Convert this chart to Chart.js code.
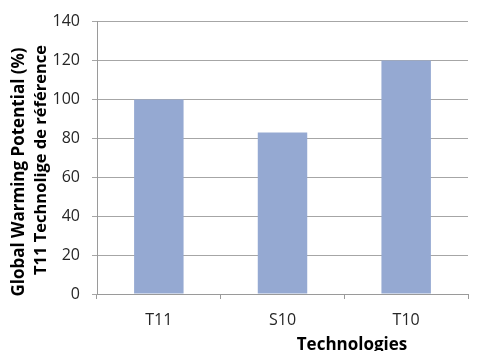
<!DOCTYPE html>
<html lang="en">
<head>
  <meta charset="UTF-8" />
  <title>Global Warming Potential</title>
  <script src="https://cdn.jsdelivr.net/npm/chart.js"></script>
  <style>
    html, body { margin: 0; padding: 0; background: #ffffff; }
    .chart-wrapper { width: 479px; height: 351px; position: relative; }
  </style>
</head>
<body>
<div class="chart-wrapper">
  <canvas id="gwpChart"></canvas>
</div>
<script>
  // Data
  const categories = ['T11', 'S10', 'T10'];
  const gwpValues = [100, 83, 120];
  const yTitleLines = ['Global Warming Potential (%)', 'T11 Technolige de référence'];
  const xTitle = 'Technologies';

  const fontFamily = "'Open Sans', 'DejaVu Sans', sans-serif";

  // draws the axis titles where the original has them (overlapping the tick labels)
  const axisTitles = {
    id: 'axisTitles',
    afterDraw(chart) {
      const ctx = chart.ctx;
      ctx.save();
      ctx.fillStyle = '#000000';
      ctx.font = 'bold 17px ' + fontFamily;
      ctx.textAlign = 'center';
      ctx.textBaseline = 'middle';
      ctx.translate(0, 172);
      ctx.rotate(-Math.PI / 2);
      ctx.fillText(yTitleLines[0], 0, 19);
      ctx.font = 'bold 16.5px ' + fontFamily;
      ctx.fillText(yTitleLines[1], 12, 41);
      ctx.restore();

      ctx.save();
      ctx.fillStyle = '#000000';
      ctx.font = 'bold 17px ' + fontFamily;
      ctx.textAlign = 'center';
      ctx.textBaseline = 'middle';
      ctx.fillText(xTitle, 352, 345);
      ctx.restore();
    }
  };

  new Chart(document.getElementById('gwpChart').getContext('2d'), {
    type: 'bar',
    data: {
      labels: categories,
      datasets: [{
        data: gwpValues,
        backgroundColor: '#95a9d2',
        borderWidth: 0,
        categoryPercentage: 0.4,
        barPercentage: 1
      }]
    },
    options: {
      responsive: true,
      maintainAspectRatio: false,
      animation: false,
      layout: { padding: { top: 20, right: 11, left: 0, bottom: 0 } },
      plugins: {
        legend: { display: false },
        tooltip: { enabled: false }
      },
      scales: {
        x: {
          afterFit(scale) { scale.height = 57; },
          grid: {
            drawOnChartArea: false,
            color: '#9a9a9a',
            tickLength: 5
          },
          border: { color: '#9a9a9a' },
          ticks: {
            color: '#262626',
            font: { family: fontFamily, size: 16 },
            padding: 12,
            maxRotation: 0
          }
        },
        y: {
          min: 0,
          max: 140,
          afterFit(scale) { scale.width = 97; },
          grid: {
            color: '#a6a6a6',
            tickLength: 5
          },
          border: { color: '#9a9a9a' },
          ticks: {
            stepSize: 20,
            color: '#262626',
            font: { family: fontFamily, size: 16 },
            padding: 12
          }
        }
      }
    },
    plugins: [axisTitles]
  });
</script>
</body>
</html>
